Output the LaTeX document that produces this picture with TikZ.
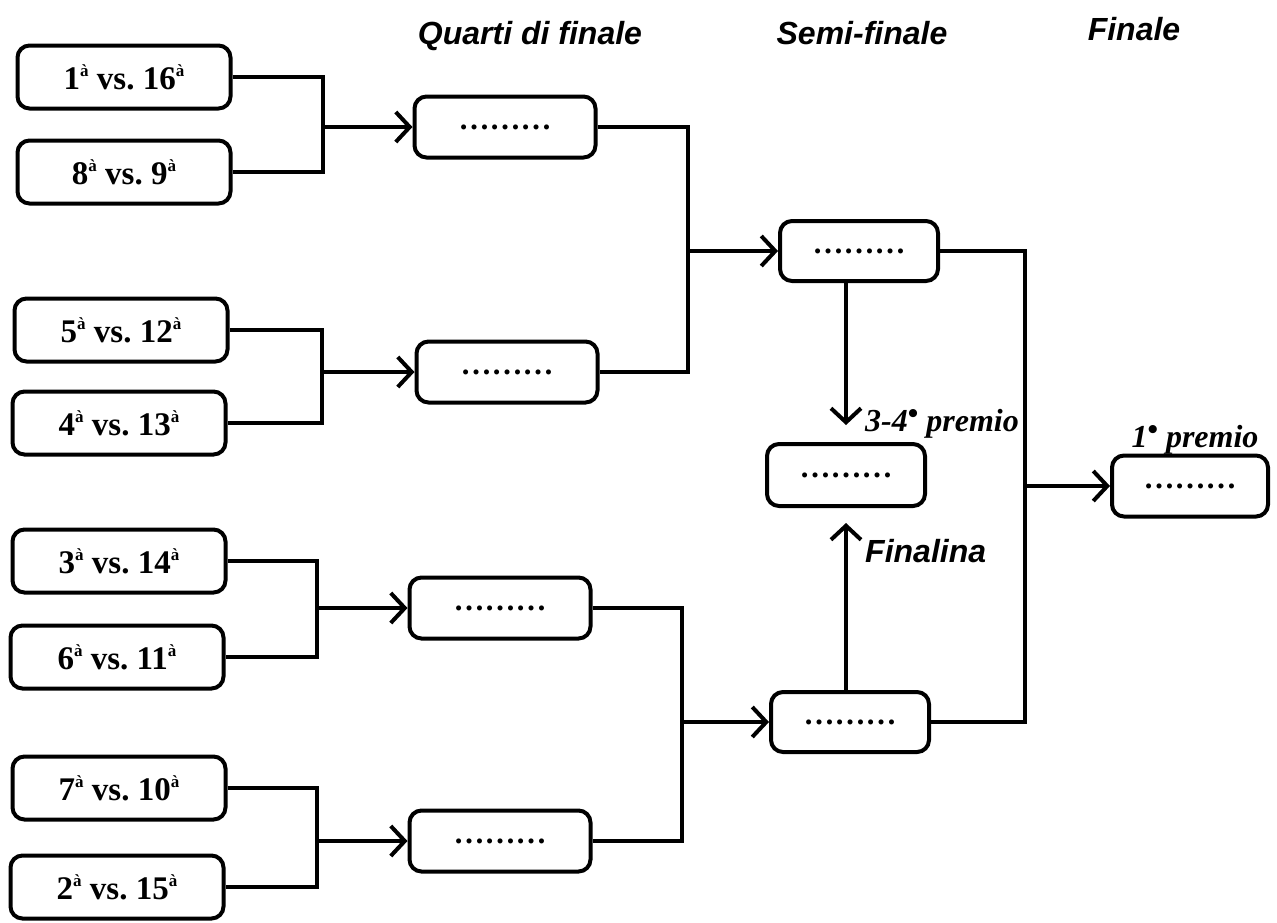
\documentclass[tikz,border=0pt]{standalone}
\usepackage{fontspec}
\setmainfont{Liberation Serif}
\newfontfamily\headfont{Liberation Sans}
\usetikzlibrary{arrows.meta}
\frenchspacing
\tikzset{
  match/.style={draw,line width=4pt,rounded corners=12pt,minimum width=213pt,minimum height=63pt,inner sep=0pt,font=\fontsize{33}{34}\selectfont\bfseries},
  slot/.style={match,minimum width=181pt,minimum height=61pt,font=\fontsize{31}{32}\selectfont\bfseries},
  wire/.style={line width=4pt},
  arr/.style={wire,-{Straight Barb[length=14pt,width=30pt]}},
  stage/.style={inner sep=0pt,font=\headfont\fontsize{32}{34}\selectfont\bfseries\itshape},
  prize/.style={inner sep=0pt,font=\fontsize{32}{34}\selectfont\bfseries\itshape}
}
\newcommand{\seed}[1]{#1\raisebox{0.4em}{\fontsize{17}{17}\selectfont à}}
\newcommand{\blt}{\raisebox{0.25em}{\fontsize{30}{30}\selectfont\upshape •}}

\begin{document}
\begin{tikzpicture}[x=1pt,y=-1pt]
    \useasboundingbox (0,0) rectangle (1277,922);
    % stage titles
    \node[stage,anchor=base] (hq) at (530,44) {Quarti di finale};
    \node[stage,anchor=base] (hs) at (862,44) {Semi-finale};
    \node[stage,anchor=base] (hf) at (1134,40) {Finale};
    % first round
    \node[match] (m1) at (124,77)  {\seed{1} vs. \seed{16}};
    \node[match] (m2) at (124,172) {\seed{8} vs. \seed{9}};
    \node[match] (m3) at (121,330) {\seed{5} vs. \seed{12}};
    \node[match] (m4) at (119,423) {\seed{4} vs. \seed{13}};
    \node[match] (m5) at (119,561) {\seed{3} vs. \seed{14}};
    \node[match] (m6) at (117,657) {\seed{6} vs. \seed{11}};
    \node[match] (m7) at (119,788) {\seed{7} vs. \seed{10}};
    \node[match] (m8) at (117,887) {\seed{2} vs. \seed{15}};
    % quarter finals
    \node[slot] (q1) at (505,127) {………};
    \node[slot] (q2) at (507,372) {………};
    \node[slot] (q3) at (500,608) {………};
    \node[slot] (q4) at (500,841) {………};
    % semi finals, small final, final
    \node[slot,minimum width=158pt,minimum height=60pt] (s1) at (859,251) {………};
    \node[slot,minimum width=158pt,minimum height=60pt] (s2) at (850,722) {………};
    \node[slot,minimum width=158pt,minimum height=62pt] (t) at (846,475) {………};
    \node[slot,minimum width=156pt,minimum height=61pt] (f) at (1190,486) {………};
    % junctions
    \coordinate (j1) at (323,127);
    \coordinate (j2) at (322,372);
    \coordinate (j3) at (317,608);
    \coordinate (j4) at (317,841);
    \coordinate (k1) at (688,251);
    \coordinate (k2) at (682,722);
    \coordinate (n)  at (1025,486);
    % brackets
    \draw[wire] (m1.east) -| (j1) |- (m2.east); \draw[arr] (j1) -- (q1.west);
    \draw[wire] (m3.east) -| (j2) |- (m4.east); \draw[arr] (j2) -- (q2.west);
    \draw[wire] (m5.east) -| (j3) |- (m6.east); \draw[arr] (j3) -- (q3.west);
    \draw[wire] (m7.east) -| (j4) |- (m8.east); \draw[arr] (j4) -- (q4.west);
    \draw[wire] (q1.east) -| (k1) |- (q2.east); \draw[arr] (k1) -- (s1.west);
    \draw[wire] (q3.east) -| (k2) |- (q4.east); \draw[arr] (k2) -- (s2.west);
    \draw[wire] (s1.east) -| (n) |- (s2.east);  \draw[arr] (n) -- (f.west);
    % losers to the small final
    \draw[arr] (t.north |- s1.south) -- ([yshift=17pt]t.north);
    \draw[arr] (t.south |- s2.north) -- ([yshift=-15pt]t.south);
    % prize labels
    \node[prize,anchor=base west] (p34) at (865,431) {3-4\blt\ premio};
    \node[stage,anchor=base west] (fl) at (865,562) {Finalina};
    \node[prize,anchor=base] (p1) at (1195,447) {1\blt\ premio};
\end{tikzpicture}
\end{document}
